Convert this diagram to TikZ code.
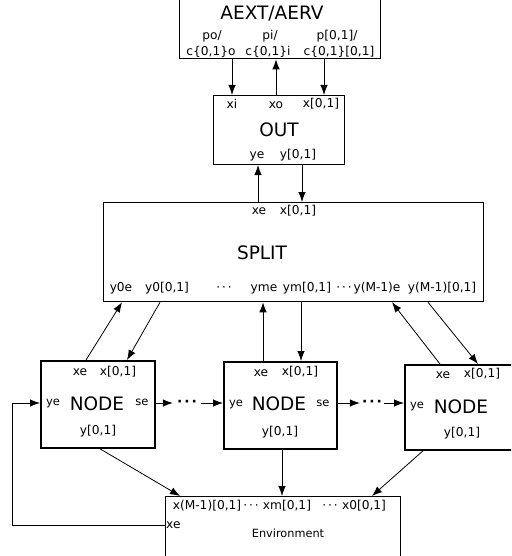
\documentclass[tikz,border=0pt]{standalone}
\usepackage{fontspec}
\setmainfont{DejaVu Sans}
\usetikzlibrary{arrows.meta}
\newcommand\middots{·\hspace{2pt}·\hspace{2pt}·}
\begin{document}
\begin{tikzpicture}[x=1pt,y=-1pt,
  box/.style={draw, rectangle, inner sep=0pt, anchor=north west},
  nodebox/.style={box, line width=1.8pt, minimum width=114pt, minimum height=87pt},
  lbl/.style={font=\fontsize{12.2}{16}\selectfont, inner sep=0pt, text height=9pt, text depth=2.5pt},
  small/.style={lbl, font=\fontsize{11.5}{14}\selectfont},
  title/.style={font=\fontsize{18.5}{22}\selectfont, inner sep=0pt},
  dots/.style={font=\fontsize{12}{14}\selectfont, inner sep=0pt},
  bigdots/.style={font=\fontsize{14}{14}\selectfont\bfseries, inner ysep=0pt},
  arr/.style={-{Latex[length=10pt,width=7.5pt]}, line width=0.8pt},
]
\clip (0,0) rectangle (511,556);
\fill[white] (0,0) rectangle (511,556);

% ---- boxes ----
\node[box, line width=1.4pt, minimum width=201pt, minimum height=80pt] (aext) at (179,-22) {};
\node[box, line width=1pt, minimum width=131pt, minimum height=69pt] (out) at (213,95) {};
\node[box, line width=1.3pt, minimum width=380pt, minimum height=99pt] (split) at (103,202) {};
\node[nodebox] (n1) at (40,360) {};
\node[nodebox, minimum width=113pt] (n2) at (223,361) {};
\node[nodebox, minimum height=85pt] (n3) at (404,364) {};
\node[box, line width=1pt, minimum width=235pt, minimum height=80pt] (env) at (165,496) {};

% ---- AEXT/AERV ----
\node[title] (aexttitle) at (272,14) {AEXT/AERV};
\node[lbl] (ppo1) at (212,36) {po/};
\node[lbl] (ppo2) at (211,52) {c\{0,1\}o};
\node[lbl] (ppi1) at (270,36) {pi/};
\node[lbl] (ppi2) at (268,52) {c\{0,1\}i};
\node[lbl] (ppx1) at (337,36) {p[0,1]/};
\node[lbl] (ppx2) at (339,52) {c\{0,1\}[0,1]};

% ---- OUT ----
\node[lbl] (oxi) at (232,105) {xi};
\node[lbl] (oxo) at (276,105) {xo};
\node[lbl] (oxx) at (321,104) {x[0,1]};
\node[title] (outtitle) at (279,130) {OUT};
\node[lbl] (oye) at (257,155) {ye};
\node[lbl] (oyy) at (298,155) {y[0,1]};

% ---- SPLIT ----
\node[lbl] (sxe) at (259,211) {xe};
\node[lbl] (sxx) at (298,211) {x[0,1]};
\node[title] (splittitle) at (262,253) {SPLIT};
\node[lbl] (sy0e) at (121,288) {y0e};
\node[lbl] (sy0x) at (167,288) {y0[0,1]};
\node[dots] (sd1) at (224,289) {\middots};
\node[lbl] (syme) at (264,288) {yme};
\node[lbl] (symx) at (307,288) {ym[0,1]};
\node[dots] (sd2) at (344,289) {\middots};
\node[lbl] (syMe) at (377,288) {y(M-1)e};
\node[lbl] (syMx) at (442,288) {y(M-1)[0,1]};

% ---- NODE boxes ----
\node[lbl] (n1xe) at (80,372) {xe};
\node[lbl] (n1xx) at (118,372) {x[0,1]};
\node[small] (n1ye) at (53,402) {ye};
\node[title] (n1t) at (97,404) {NODE};
\node[small] (n1se) at (142,402) {se};
\node[lbl] (n1yy) at (98,431) {y[0,1]};

\node[lbl] (n2xe) at (261,373) {xe};
\node[lbl] (n2xx) at (300,372) {x[0,1]};
\node[small] (n2ye) at (236,403) {ye};
\node[title] (n2t) at (279,404) {NODE};
\node[small] (n2se) at (323,403) {se};
\node[lbl] (n2yy) at (280,432) {y[0,1]};

\node[lbl] (n3xe) at (443,375) {xe};
\node[lbl] (n3xx) at (482,374) {x[0,1]};
\node[small] (n3ye) at (417,405) {ye};
\node[title] (n3t) at (461,407) {NODE};
\node[lbl] (n3yy) at (462,433) {y[0,1]};

% ---- Environment ----
\node[lbl] (exM) at (207,506) {x(M-1)[0,1]};
\node[dots] (ed1) at (251,507) {\middots};
\node[lbl] (exm) at (287,506) {xm[0,1]};
\node[dots] (ed2) at (330,507) {\middots};
\node[lbl] (ex0) at (364,506) {x0[0,1]};
\node[lbl, anchor=west] (exe) at (166,525) {xe};
\node[font=\fontsize{11.3}{14}\selectfont, inner sep=0pt] (envtitle) at (288,533) {Environment};

% ---- port positions ----
\coordinate (a1) at (232,0);
\coordinate (a2) at (276,0);
\coordinate (a3) at (324,0);
\coordinate (o1) at (258,0);
\coordinate (o2) at (302,0);
\coordinate (k1a) at (86,0);  \coordinate (k1b) at (122,0);
\coordinate (k1c) at (160,0); \coordinate (k1d) at (127,0);
\coordinate (k2a) at (263,0); \coordinate (k2b) at (301,0);
\coordinate (k3a) at (440,0); \coordinate (k3b) at (392,0);
\coordinate (k3c) at (428,0); \coordinate (k3d) at (478,0);
\coordinate (e1a) at (100,0); \coordinate (e1b) at (180,0);
\coordinate (e2) at (282,0);
\coordinate (e3a) at (423,0); \coordinate (e3b) at (372,0);
\coordinate (cy) at (0,403);
\coordinate (fy) at (0,525);
\coordinate (fx) at (12,0);

% ---- AEXT <-> OUT ----
\draw[arr] (aext.south -| a1) -- (out.north -| a1);
\draw[arr] (out.north -| a2) -- (aext.south -| a2);
\draw[arr] (aext.south -| a3) -- (out.north -| a3);

% ---- OUT <-> SPLIT ----
\draw[arr] (split.north -| o1) -- (out.south -| o1);
\draw[arr] (out.south -| o2) -- (split.north -| o2);

% ---- SPLIT <-> NODEs ----
\draw[arr] (n1.north -| k1a) -- (split.south -| k1b);
\draw[arr] (split.south -| k1c) -- (n1.north -| k1d);
\draw[arr] (n2.north -| k2a) -- (split.south -| k2a);
\draw[arr] (split.south -| k2b) -- (n2.north -| k2b);
\draw[arr] (n3.north -| k3a) -- (split.south -| k3b);
\draw[arr] (split.south -| k3c) -- (n3.north -| k3d);

% ---- NODE chain ----
\node[bigdots, inner xsep=4pt] (cd1) at (187,403) {\middots};
\node[bigdots, inner xsep=2pt] (cd2) at (372,403) {\middots};
\draw[arr] (n1.east |- cy) -- (cd1.west |- cy);
\draw[arr] (cd1.east |- cy) -- (n2.west |- cy);
\draw[arr] (n2.east |- cy) -- (cd2.west |- cy);
\draw[arr] (cd2.east |- cy) -- (n3.west |- cy);

% ---- NODEs -> Environment ----
\draw[arr] (n1.south -| e1a) -- (env.north -| e1b);
\draw[arr] (n2.south -| e2) -- (env.north -| e2);
\draw[arr] (n3.south -| e3a) -- (env.north -| e3b);

% ---- feedback from Environment to the first NODE ----
\draw[arr] (env.west |- fy) -- (fx |- fy) -- (fx |- cy) -- (n1.west |- cy);

\end{tikzpicture}
\end{document}
